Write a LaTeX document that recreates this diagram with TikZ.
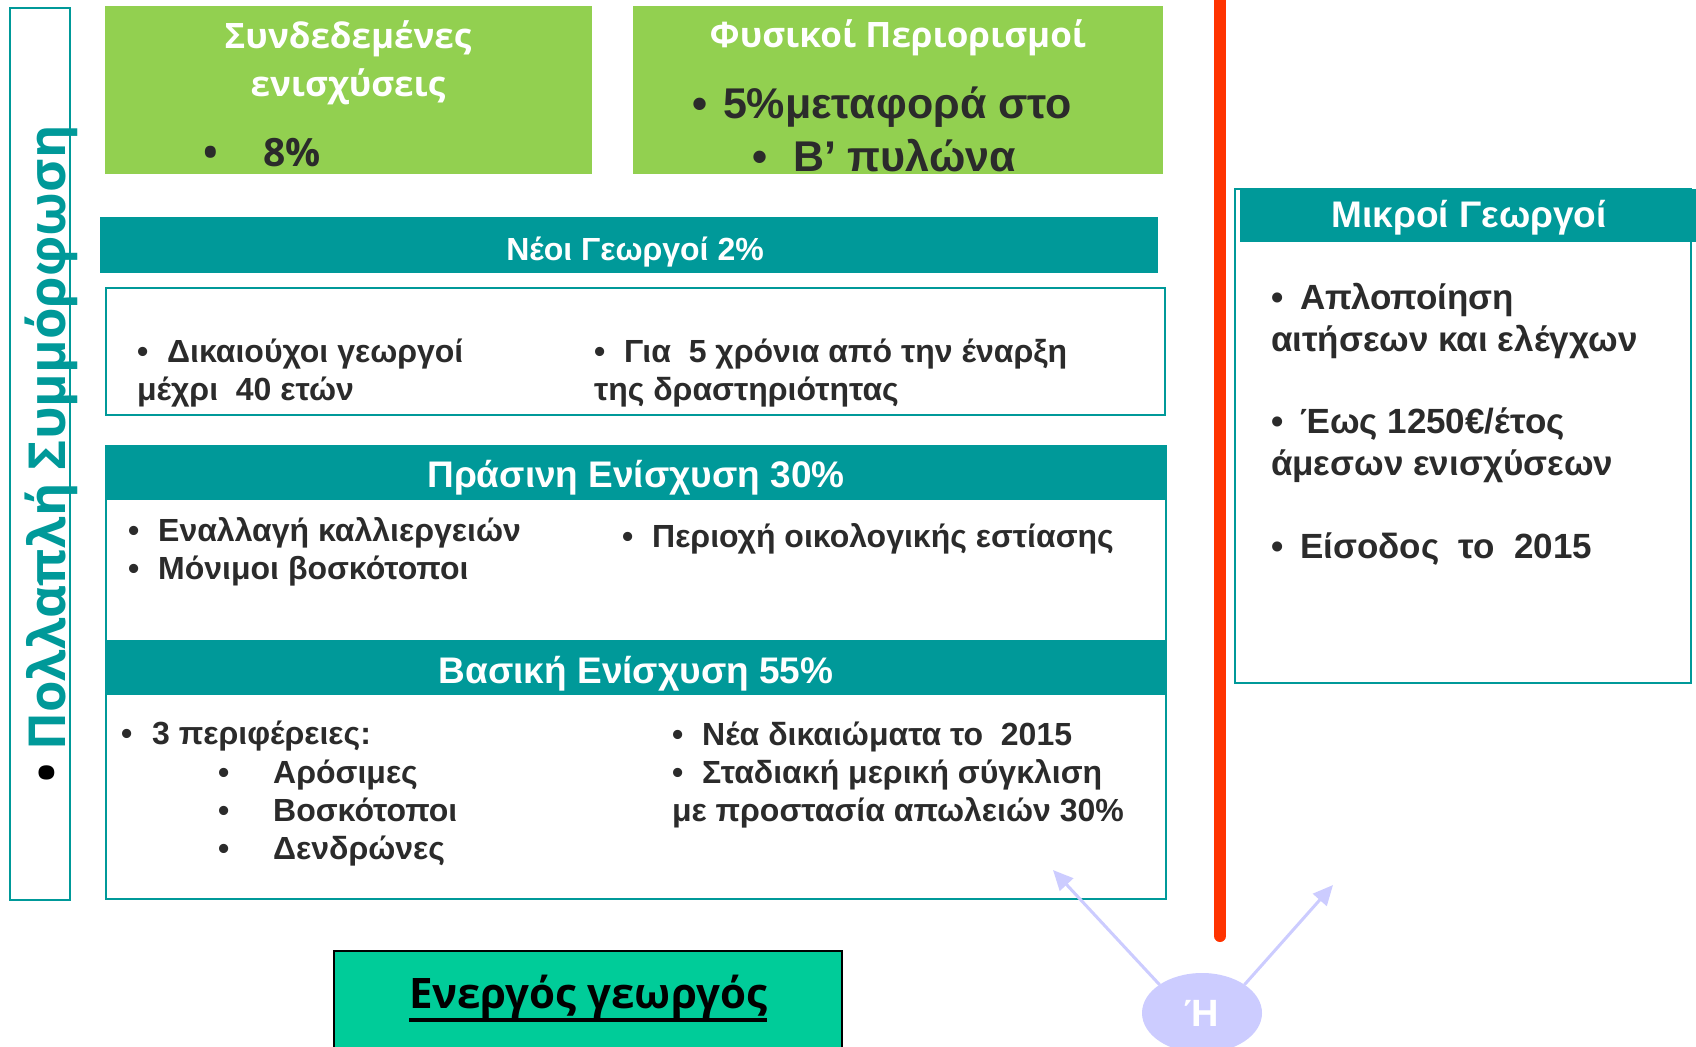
\documentclass[tikz,border=0pt]{standalone}
\usepackage{fontspec}
\setmainfont{Liberation Sans}
\newfontfamily\opensans{Open Sans}
\usetikzlibrary{shapes.geometric,arrows.meta}
\definecolor{leafgreen}{HTML}{92D050}
\definecolor{seagreen}{HTML}{009999}
\definecolor{mintgreen}{HTML}{00CC99}
\definecolor{lavender}{HTML}{CCCCFF}
\definecolor{redline}{HTML}{FF3300}
\definecolor{inkgray}{HTML}{2B2B2B}

\begin{document}
\begin{tikzpicture}[x=1pt,y=-1pt,
    every node/.style={inner sep=0pt, outer sep=0pt},
    leafbox/.style={fill=leafgreen, anchor=north west},
    barbox/.style={fill=seagreen, anchor=north west},
    framebox/.style={draw=seagreen, line width=2.5pt, anchor=north west},
    leafhead/.style={text=white, font=\opensans\bfseries\fontsize{35}{48}\selectfont, align=center},
    barhead/.style={text=white, font=\bfseries\fontsize{37}{42}\selectfont},
    bodytxt/.style={text=inkgray, font=\bfseries\fontsize{32}{38}\selectfont, anchor=base west, align=left},
    sidetxt/.style={bodytxt, font=\bfseries\fontsize{35}{42}\selectfont},
    bigtxt/.style={text=inkgray, font=\bfseries\fontsize{43}{52}\selectfont, anchor=base west},
    pointer/.style={lavender, line width=3pt, -{Triangle[length=20pt,width=18pt]}}]
    \useasboundingbox[fill=white] (0,0) rectangle (1696,1046);
    % dividing line
    \draw[redline, line width=12pt, line cap=round] (1220,-20) -- (1220,936);
    % left column
    \node[framebox, minimum width=60, minimum height=892] (crossbox) at (10,8) {};
    \node[rotate=90, anchor=base west, text=seagreen, font=\opensans\bfseries\fontsize{51}{60}\selectfont] (cross) at (65,782) {\textcolor{black}{•}\hspace{12pt}Πολλαπλή Συμμόρφωση};
    % green boxes
    \node[leafbox, minimum width=487, minimum height=168] (linked) at (105,6) {};
    \node[leafhead] (linkedhd) at (348,63) {Συνδεδεμένες\\ενισχύσεις};
    \node[text=inkgray, anchor=base west, font=\opensans\bfseries\fontsize{39}{46}\selectfont] (linkedpc) at (203,166) {•\hspace{46pt}8\%};
    \node[leafbox, minimum width=530, minimum height=168] (natural) at (633,6) {};
    \node[leafhead] (naturalhd) at (898,38) {Φυσικοί Περιορισμοί};
    \node[bigtxt] (naturala) at (692,119) {•\hspace{16pt}5\%μεταφορά στο};
    \node[bigtxt] (naturalb) at (752,171) {•\hspace{26pt}Β’ πυλώνα};
    % young farmers
    \node[barbox, minimum width=1058, minimum height=56] (young) at (100,217) {};
    \node[barhead, font=\bfseries\fontsize{32}{36}\selectfont, yshift=-7pt, xshift=6pt] at (young.center) {Νέοι Γεωργοί 2\%};
    \node[framebox, minimum width=1059, minimum height=127] (youngbox) at (106,288) {};
    \node[bodytxt] (younga) at (137,400) {•\hspace{19pt}Δικαιούχοι γεωργοί\\μέχρι\ \ 40 ετών};
    \node[bodytxt] (youngb) at (594,400) {•\hspace{19pt}Για\ \ 5 χρόνια από την έναρξη\\της δραστηριότητας};
    % green and basic payment
    \node[framebox, minimum width=1060, minimum height=453] (paybox) at (106,446) {};
    \node[barbox, minimum width=1060, minimum height=54] (green) at (106,446) {};
    \node[barhead, yshift=-5pt] at (green.center) {Πράσινη Ενίσχυση 30\%};
    \node[bodytxt] (greena) at (128,579) {•\hspace{19pt}Εναλλαγή καλλιεργειών\\•\hspace{19pt}Μόνιμοι βοσκότοποι};
    \node[bodytxt] (greenb) at (622,547) {•\hspace{19pt}Περιοχή οικολογικής εστίασης};
    \node[barbox, minimum width=1060, minimum height=55] (basic) at (106,640) {};
    \node[barhead, yshift=-6pt] at (basic.center) {Βασική Ενίσχυση 55\%};
    \node[bodytxt] (basica) at (121,744) {•\hspace{20pt}3 περιφέρειες:};
    \node[bodytxt] (basicb) at (218,859) {•\hspace{44pt}Αρόσιμες\\•\hspace{44pt}Βοσκότοποι\\•\hspace{44pt}Δενδρώνες};
    \node[bodytxt] (basicc) at (672,821) {•\hspace{19pt}Νέα δικαιώματα το\ \ 2015\\•\hspace{19pt}Σταδιακή μερική σύγκλιση\\με προστασία απωλειών 30\%};
    % small farmers
    \node[framebox, minimum width=456, minimum height=494] (smallbox) at (1235,189) {};
    \node[barbox, minimum width=460, minimum height=53] (small) at (1240,189) {};
    \node[barhead, yshift=-3pt] at (1469,215) {Μικροί Γεωργοί};
    \node[sidetxt] (smalla) at (1271,351) {•\hspace{17pt}Απλοποίηση\\αιτήσεων και ελέγχων};
    \node[sidetxt] (smallb) at (1271,475) {•\hspace{17pt}Έως 1250€/έτος\\άμεσων ενισχύσεων};
    \node[sidetxt] (smallc) at (1271,558) {•\hspace{17pt}Είσοδος\ \ το\ \ 2015};
    % active farmer
    \node[draw=black, line width=2pt, fill=mintgreen, anchor=north west, minimum width=508, minimum height=110] (active) at (334,951) {};
    \node[font=\opensans\bfseries\fontsize{42}{50}\selectfont, anchor=base] (activetxt) at (588,1008) {Ενεργός γεωργός};
    \draw[line width=4pt] ([yshift=-12pt]activetxt.base west) -- ([yshift=-12pt]activetxt.base east);
    % or
    \node[ellipse, fill=lavender, minimum width=120, minimum height=80, text=white, font=\bfseries\fontsize{38}{40}\selectfont] (or) at (1202,1013) {Ή};
    \coordinate (tipL) at (1053,870);
    \coordinate (tipR) at (1333,885);
    \draw[pointer] (or.north west) -- (tipL);
    \draw[pointer] (or.north east) -- (tipR);
\end{tikzpicture}
\end{document}
